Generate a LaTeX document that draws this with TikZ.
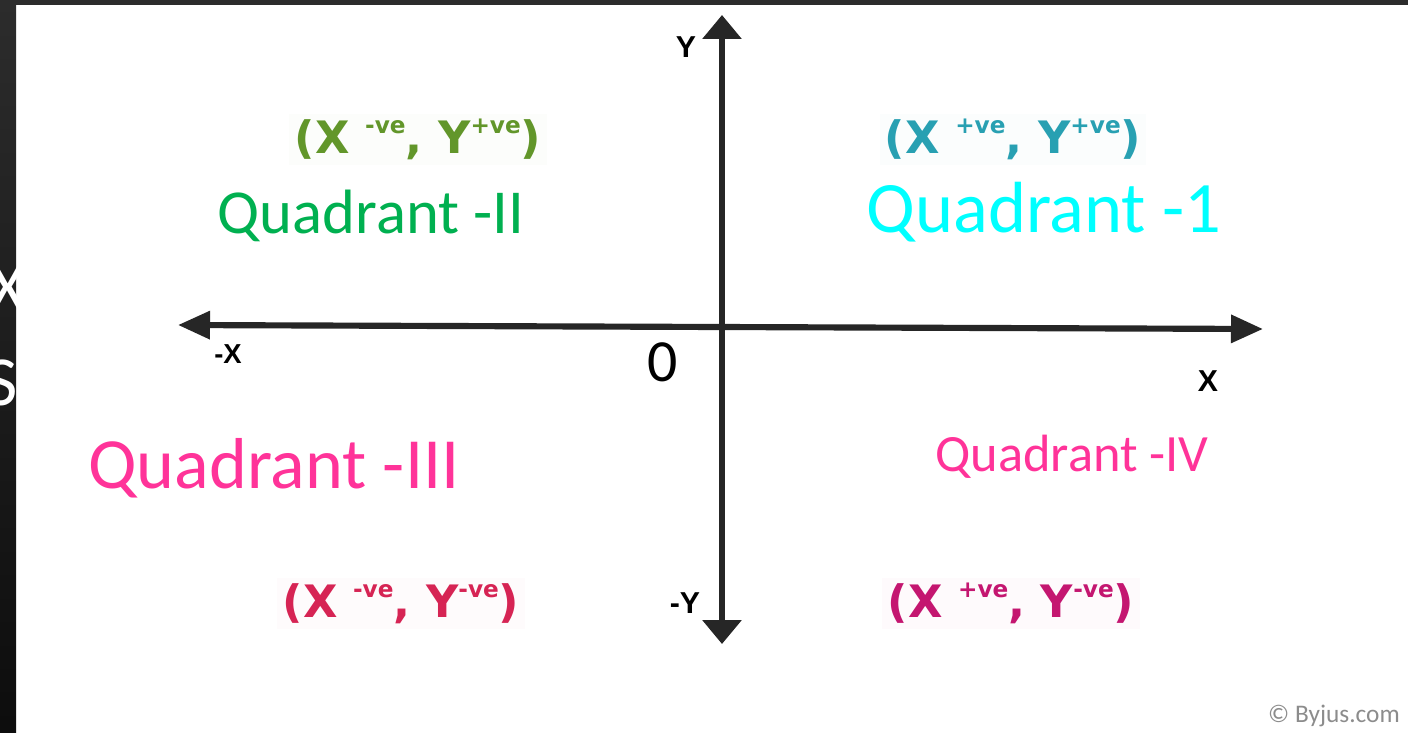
\documentclass[tikz,border=0pt]{standalone}
\usepackage{fontspec}
\setmainfont{Carlito}
\newfontfamily\tagfont{DejaVu Sans}
\newfontfamily\axfont{Liberation Sans}
\usetikzlibrary{arrows.meta}
\definecolor{slide}{RGB}{44,44,44}
\definecolor{axis}{RGB}{38,38,38}
\definecolor{qone}{RGB}{0,255,255}
\definecolor{qtwo}{RGB}{0,176,80}
\definecolor{qpink}{RGB}{255,51,153}
\definecolor{tagone}{RGB}{40,160,178}
\definecolor{tagtwo}{RGB}{98,150,42}
\definecolor{tagthree}{RGB}{214,36,84}
\definecolor{tagfour}{RGB}{196,22,112}
\definecolor{credit}{RGB}{140,140,140}
\newcommand\vesup[1]{\raisebox{0.43em}{\fontsize{6.6}{6.6}\selectfont #1}}
\newcommand\signs[2]{(X \vesup{#1}, Y\vesup{#2})}
\tikzset{
  qaxis/.style={axis,line width=1.75pt},
  qharrows/.style={arrows={Triangle[length=9.1pt,width=7.7pt]-Triangle[length=9.1pt,width=7.7pt]}},
  qvarrows/.style={arrows={Triangle[length=6.8pt,width=10.8pt]-Triangle[length=6.8pt,width=10.8pt]}},
  qax/.style={font=\axfont\bfseries\fontsize{8.6}{9}\selectfont,text=black,inner sep=0pt},
  qquad/.style={inner sep=0pt,anchor=base},
  qtag/.style={font=\tagfont\bfseries\fontsize{12.7}{13}\selectfont,inner sep=1.5pt,anchor=base},
  qcut/.style={text=white,font=\fontsize{20}{20}\selectfont,inner sep=0pt},
  qcredit/.style={text=credit,font=\fontsize{7.2}{8}\selectfont,inner sep=0pt,anchor=base},
}
\begin{document}
\begin{tikzpicture}[x=0.01cm,y=-0.01cm]
  \useasboundingbox (0,0) rectangle (1408,733);
  \fill[white] (0,0) rectangle (1408,733);
  \fill[slide] (0,0) rectangle (1408,5);
  \shade[top color=slide,bottom color=black!95] (0,0) rectangle (16,733);
  % letters cut off by the slide edge
  \begin{scope}
    \clip (0,5) rectangle (16,733);
    \node[qcut] (cutx) at (8,288) {X};
    \node[qcut] (cuts) at (2,383) {S};
  \end{scope}
  % axes
  \coordinate (xneg) at (178,325);
  \coordinate (xpos) at (1263,329);
  \coordinate (ypos) at (722,15);
  \coordinate (yneg) at (722,644);
  \draw[qaxis,qharrows] (xneg) -- (xpos);
  \draw[qaxis,qvarrows] (yneg) -- (ypos);
  \foreach \n/\x/\y/\lab in {ylab/686/47/Y,ynlab/685/603/-Y,xlab/1208/381/X}
    {\node[qax] (\n) at (\x,\y) {\lab};}
  \node[qax,font=\axfont\bfseries\fontsize{7.8}{8}\selectfont] (xnlab) at (228,354) {-X};
  \node[font=\fontsize{17}{18}\selectfont,inner sep=0pt] (orig) at (663,362) {0};
  % quadrant names
  \node[qquad,qone,font=\fontsize{20.6}{22}\selectfont] (q1) at (1044,232) {Quadrant -1};
  \node[qquad,qtwo,font=\fontsize{17.8}{20}\selectfont] (q2) at (371,233) {Quadrant -II};
  \node[qquad,qpink,font=\fontsize{20.5}{22}\selectfont] (q3) at (274,488) {Quadrant -III};
  \node[qquad,qpink,font=\fontsize{14.9}{16}\selectfont] (q4) at (1072,471) {Quadrant -IV};
  % sign tags
  \foreach \n/\x/\y/\col/\sx/\sy in {t1/1013/153/tagone/+ve/+ve,t2/418/153/tagtwo/-ve/+ve,
                                     t3/401/617/tagthree/-ve/-ve,t4/1011/617/tagfour/+ve/-ve}
    {\node[qtag,text=\col,fill=\col!2] (\n) at (\x,\y) {\signs{\sx}{\sy}};}
  \node[qcredit] (byjus) at (1334,722) {© Byjus.com};
\end{tikzpicture}
\end{document}
